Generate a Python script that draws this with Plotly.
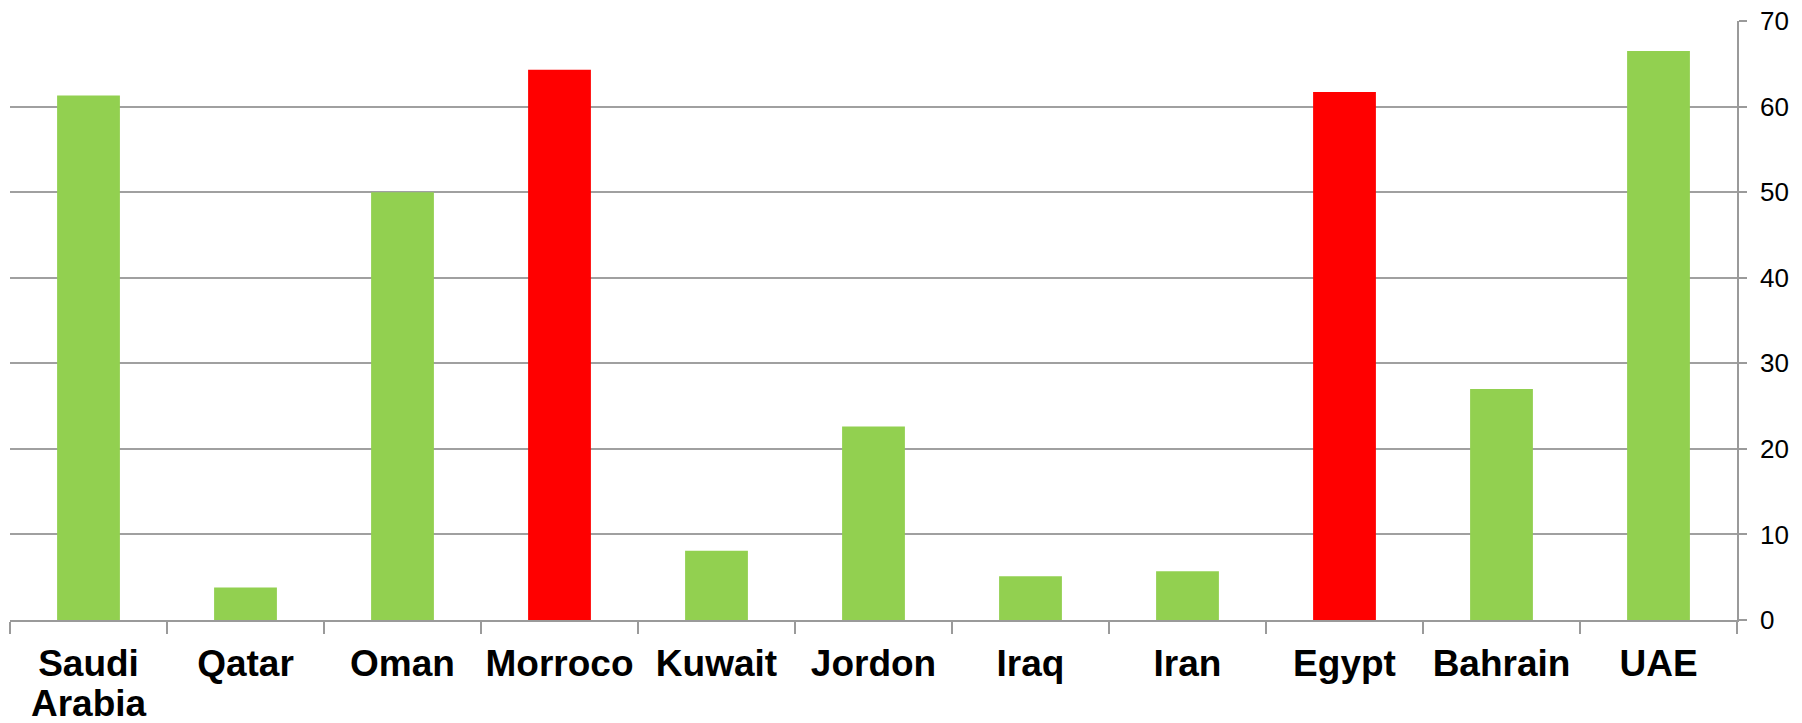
import plotly.graph_objects as go

categories = ["Saudi Arabia", "Qatar", "Oman", "Morroco", "Kuwait", "Jordon",
              "Iraq", "Iran", "Egypt", "Bahrain", "UAE"]
tick_labels = ["Saudi", "Qatar", "Oman", "Morroco", "Kuwait", "Jordon",
               "Iraq", "Iran", "Egypt", "Bahrain", "UAE"]
values = [61.3, 3.8, 50.0, 64.3, 8.1, 22.6, 5.1, 5.7, 61.7, 27.0, 66.5]
highlight = ["Morroco", "Egypt"]
y_ticks = [0, 10, 20, 30, 40, 50, 60, 70]

GREEN = "#92D050"
RED = "#FF0000"
colors = [RED if c in highlight else GREEN for c in categories]

fig = go.Figure(go.Bar(
    x=categories, y=values,
    marker=dict(color=colors, line=dict(width=0)),
    hoverinfo="x+y",
))

XFONT = dict(family="Liberation Sans, Arial, sans-serif", size=37, weight="bold", color="#000000")

fig.update_layout(
    width=1802, height=723,
    margin=dict(l=10, r=65, t=21, b=103),
    paper_bgcolor="white", plot_bgcolor="white",
    bargap=0.6,
    showlegend=False,
    font=dict(family="Liberation Sans, Arial, sans-serif", color="#000000"),
)
# second line of the first category label
fig.add_annotation(
    x=categories[0], xref="x", y=-0.140, yref="paper",
    text="Arabia", showarrow=False, xanchor="center", yanchor="middle",
    font=XFONT,
)
fig.update_xaxes(
    type="category", tickvals=categories, ticktext=tick_labels,
    tickangle=0, automargin=False,
    showline=True, linecolor="#9a9a9a", linewidth=1.5,
    ticks="outside", tickson="boundaries", ticklen=12, tickcolor="#9a9a9a", tickwidth=1.5,
    tickfont=XFONT, ticklabelstandoff=10,
    showgrid=False, zeroline=False,
)
fig.update_yaxes(
    side="right", range=[0, 70], tickvals=y_ticks, automargin=False,
    showline=True, linecolor="#9a9a9a", linewidth=1.5,
    ticks="outside", ticklen=8, tickcolor="#9a9a9a", tickwidth=1.5,
    tickfont=dict(size=26, color="#000000"),
    ticklabelstandoff=8,
    showgrid=True, gridcolor="#a0a0a0", gridwidth=1.5,
    zeroline=False,
)

fig.write_html("out.html")
